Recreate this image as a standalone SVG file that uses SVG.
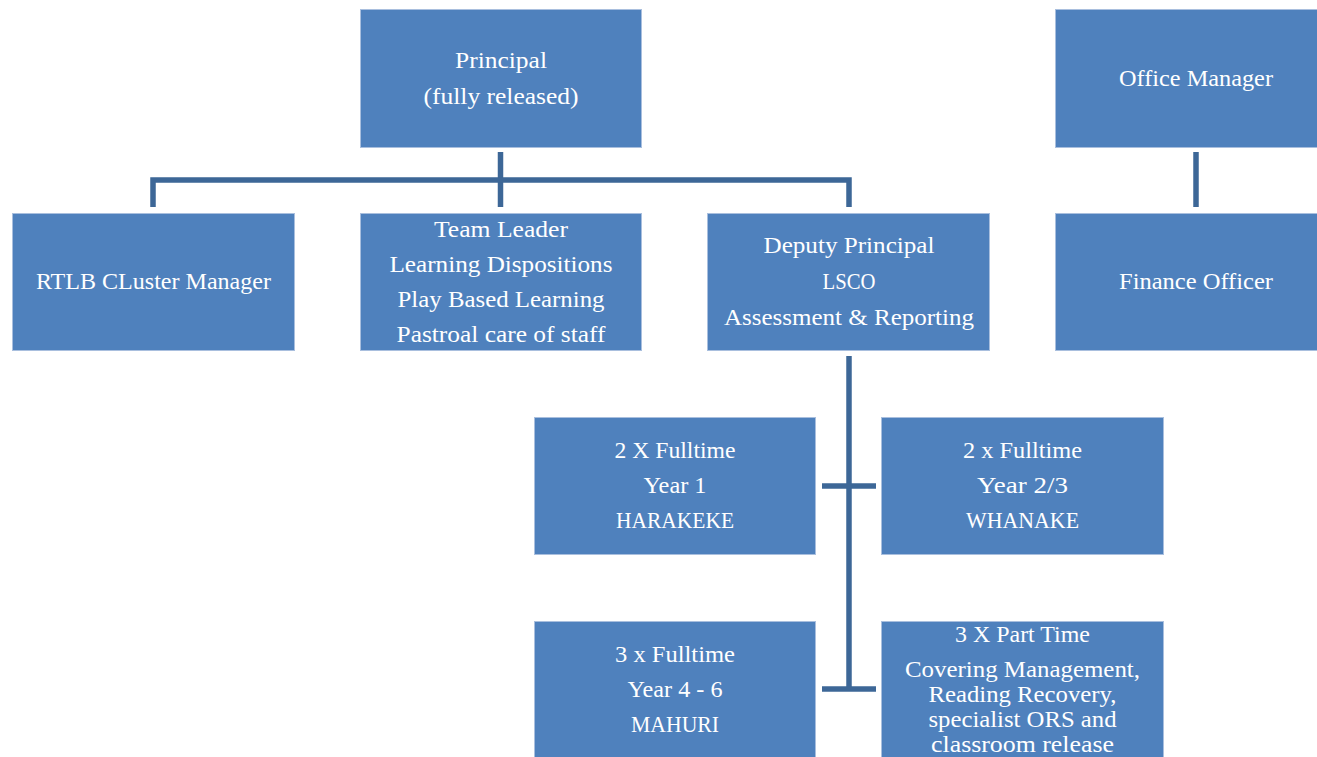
<svg xmlns="http://www.w3.org/2000/svg" width="1317" height="757" viewBox="0 0 1317 757">
<style>
.box{fill:#4F81BD;stroke:#A9BFDE;stroke-width:1}
.t{font-family:"Liberation Serif","Times New Roman",serif;font-size:24px;fill:#FFFFFF;text-anchor:middle}
.c{stroke:#3D6797;stroke-width:5.5;fill:none;stroke-linecap:butt}
</style>
<rect width="1317" height="757" fill="#FFFFFF"/>
<g id="connectors">
<line class="c" x1="500.5" y1="152" x2="500.5" y2="207"/>
<polyline class="c" points="153,207 153,180 849,180 849,207"/>
<line class="c" x1="1196" y1="152" x2="1196" y2="207"/>
<line class="c" x1="849" y1="356" x2="849" y2="689"/>
<line class="c" x1="822" y1="486" x2="876" y2="486"/>
<line class="c" x1="822" y1="689" x2="876" y2="689"/>
</g>
<g id="principal">
<rect class="box" x="360.5" y="9.5" width="281" height="138"/>
<text class="t" x="501" y="68" textLength="92" lengthAdjust="spacingAndGlyphs">Principal</text>
<text class="t" x="501" y="104" textLength="155" lengthAdjust="spacingAndGlyphs">(fully released)</text>
</g>
<g id="office-manager">
<rect class="box" x="1055.5" y="9.5" width="262" height="138"/>
<text class="t" x="1196" y="86" textLength="154" lengthAdjust="spacingAndGlyphs">Office Manager</text>
</g>
<g id="rtlb">
<rect class="box" x="12.5" y="213.5" width="282" height="137"/>
<text class="t" x="153.5" y="289" textLength="235" lengthAdjust="spacingAndGlyphs">RTLB CLuster Manager</text>
</g>
<g id="team-leader">
<rect class="box" x="360.5" y="213.5" width="281" height="137"/>
<text class="t" x="501" y="237" textLength="134" lengthAdjust="spacingAndGlyphs">Team Leader</text>
<text class="t" x="501" y="272" textLength="223" lengthAdjust="spacingAndGlyphs">Learning Dispositions</text>
<text class="t" x="501" y="307" textLength="207" lengthAdjust="spacingAndGlyphs">Play Based Learning</text>
<text class="t" x="501" y="342" textLength="209" lengthAdjust="spacingAndGlyphs">Pastroal care of staff</text>
</g>
<g id="deputy-principal">
<rect class="box" x="707.5" y="213.5" width="282" height="137"/>
<text class="t" x="849" y="253" textLength="171" lengthAdjust="spacingAndGlyphs">Deputy Principal</text>
<text class="t" x="849" y="289" textLength="53" lengthAdjust="spacingAndGlyphs">LSCO</text>
<text class="t" x="849" y="325" textLength="250" lengthAdjust="spacingAndGlyphs">Assessment &amp; Reporting</text>
</g>
<g id="finance-officer">
<rect class="box" x="1055.5" y="213.5" width="262" height="137"/>
<text class="t" x="1196" y="289" textLength="154" lengthAdjust="spacingAndGlyphs">Finance Officer</text>
</g>
<g id="year1">
<rect class="box" x="534.5" y="417.5" width="281" height="137"/>
<text class="t" x="675" y="458" textLength="121" lengthAdjust="spacingAndGlyphs">2 X Fulltime</text>
<text class="t" x="675" y="493" textLength="63" lengthAdjust="spacingAndGlyphs">Year 1</text>
<text class="t" x="675" y="528" textLength="118" lengthAdjust="spacingAndGlyphs">HARAKEKE</text>
</g>
<g id="year23">
<rect class="box" x="881.5" y="417.5" width="282" height="137"/>
<text class="t" x="1022.5" y="458" textLength="119" lengthAdjust="spacingAndGlyphs">2 x Fulltime</text>
<text class="t" x="1022.5" y="493" textLength="91" lengthAdjust="spacingAndGlyphs">Year 2/3</text>
<text class="t" x="1022.5" y="528" textLength="113" lengthAdjust="spacingAndGlyphs">WHANAKE</text>
</g>
<g id="year46">
<rect class="box" x="534.5" y="621.5" width="281" height="137"/>
<text class="t" x="675" y="662" textLength="120" lengthAdjust="spacingAndGlyphs">3 x Fulltime</text>
<text class="t" x="675" y="697" textLength="95" lengthAdjust="spacingAndGlyphs">Year 4 - 6</text>
<text class="t" x="675" y="732" textLength="88" lengthAdjust="spacingAndGlyphs">MAHURI</text>
</g>
<g id="part-time">
<rect class="box" x="881.5" y="621.5" width="282" height="137"/>
<text class="t" x="1022.5" y="642" textLength="135" lengthAdjust="spacingAndGlyphs">3 X Part Time</text>
<text class="t" x="1022.5" y="677" textLength="235" lengthAdjust="spacingAndGlyphs">Covering Management,</text>
<text class="t" x="1022.5" y="702" textLength="188" lengthAdjust="spacingAndGlyphs">Reading Recovery,</text>
<text class="t" x="1022.5" y="727" textLength="188" lengthAdjust="spacingAndGlyphs">specialist ORS and</text>
<text class="t" x="1022.5" y="752" textLength="183" lengthAdjust="spacingAndGlyphs">classroom release</text>
</g>
</svg>
